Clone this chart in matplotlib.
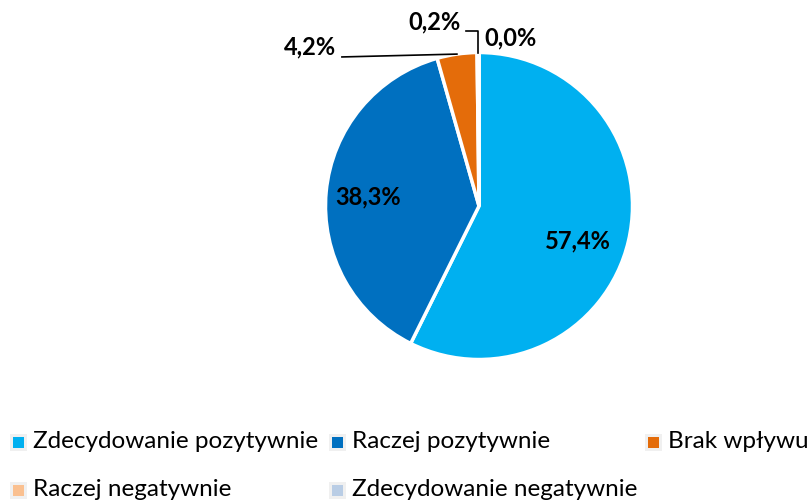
import matplotlib
matplotlib.use("Agg")
import matplotlib.pyplot as plt
from matplotlib.patches import Rectangle
import numpy as np

categories = ["Zdecydowanie pozytywnie", "Raczej pozytywnie", "Brak wpływu",
              "Raczej negatywnie", "Zdecydowanie negatywnie"]
values = [57.4, 38.3, 4.2, 0.2, 0.0]
labels = ["57,4%", "38,3%", "4,2%", "0,2%", "0,0%"]
colors = ["#00B0F0", "#0070C0", "#E46C0A", "#FAC090", "#B9CDE5"]

W, H = 808, 500
fig = plt.figure(figsize=(W / 100, H / 100), dpi=100)
FONT = "Lato"

cx, cy, R = 479, 206, 153.5
ax = fig.add_axes([(cx - R) / W, (H - cy - R) / H, 2 * R / W, 2 * R / H])
wedges, _ = ax.pie(values, colors=colors, startangle=90, counterclock=False,
                   wedgeprops=dict(edgecolor="white", linewidth=2.5))
ax.set_xlim(-1, 1)
ax.set_ylim(-1, 1)
ax.set_aspect("equal")
ax.axis("off")

# label positions (axes data units)
label_pos = [(0.645, -0.228), (-0.723, 0.059), (-1.10, 1.036), (-0.293, 1.199), (0.202, 1.094)]
for lab, (x, y) in zip(labels, label_pos):
    ax.text(x, y, lab, ha="center", va="center", fontsize=17, fontweight="bold",
            family=FONT, clip_on=False)

def edge_point(w):
    t = np.deg2rad((w.theta1 + w.theta2) / 2)
    return np.cos(t), np.sin(t)

# leader for 4,2%
ex, ey = edge_point(wedges[2])
ax.plot([-0.893, ex], [0.971, ey], color="black", lw=1.2, clip_on=False)
# leader for 0,2%
ex, ey = edge_point(wedges[3])
ax.plot([-0.085, ex, ex], [1.137, 1.137, ey], color="black", lw=1.2, clip_on=False)

# legend
leg_pos = [(13, 442), (332, 442), (648, 442), (13, 490), (332, 490)]
for cat, col, (x, y) in zip(categories, colors, leg_pos):
    s = 11
    fig.patches.append(Rectangle(((x - 3) / W, (H - y - s / 2 - 3) / H), (s + 6) / W, (s + 6) / H,
                                 transform=fig.transFigure, facecolor="#F0F0F0", edgecolor="none"))
    fig.patches.append(Rectangle((x / W, (H - y - s / 2) / H), s / W, s / H,
                                 transform=fig.transFigure, facecolor=col, edgecolor="none"))
    fig.text((x + 20) / W, (H - y) / H, cat, ha="left", va="center", fontsize=17.5, family=FONT)

fig.savefig("out.png", dpi=100)
